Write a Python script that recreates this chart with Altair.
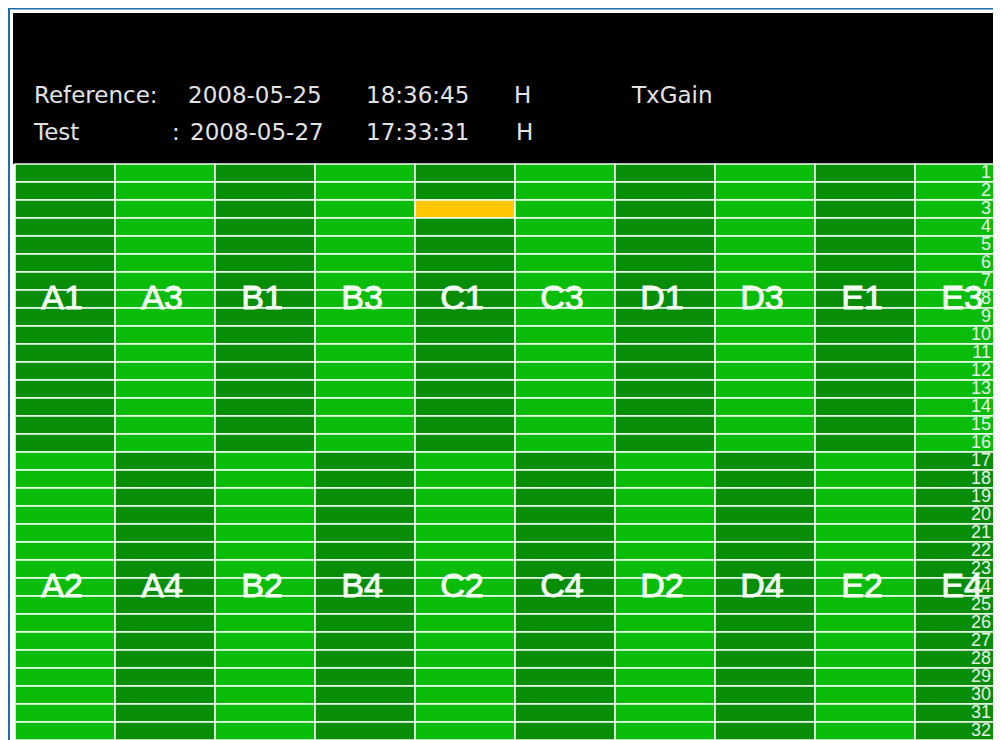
import altair as alt
import pandas as pd

# ---- data ----
top_modules = ["A1", "A3", "B1", "B3", "C1", "C3", "D1", "D3", "E1", "E3"]
bottom_modules = ["A2", "A4", "B2", "B4", "C2", "C4", "D2", "D4", "E2", "E4"]
top_states = ["dark", "bright", "dark", "bright", "dark", "bright", "dark", "bright", "dark", "bright"]
bottom_states = ["bright", "dark", "bright", "dark", "bright", "dark", "bright", "dark", "bright", "dark"]
row_labels = [str(i) for i in range(1, 33)]
flag_modules = ["C1"]
flag_rows = [3]
flag_states = ["warn"]
state_names = ["dark", "bright", "warn"]
state_colors = ["#078D07", "#0BBD0B", "#FFC800"]

line1_tokens = ["Reference:", "2008-05-25", "18:36:45", "H", "TxGain"]
line2_tokens = ["Test", ":", "2008-05-27", "17:33:31", "H"]

ROWS_PER_MODULE = 16
N_ROWS = len(row_labels)

# ---- tables ----
cells = []
for c in range(len(top_modules)):
    for r in range(1, N_ROWS + 1):
        top = r <= ROWS_PER_MODULE
        module = top_modules[c] if top else bottom_modules[c]
        state = top_states[c] if top else bottom_states[c]
        for m, fr, st in zip(flag_modules, flag_rows, flag_states):
            if m == module and fr == r:
                state = st
        cells.append(dict(col=c, col_end=c + 1, row=r - 1, row_end=r,
                          module=module, state=state))
cells_df = pd.DataFrame(cells)

labels = []
for c in range(len(top_modules)):
    labels.append(dict(xc=c + 0.5, yc=7.5, module=top_modules[c]))
    labels.append(dict(xc=c + 0.5, yc=ROWS_PER_MODULE + 7.5, module=bottom_modules[c]))
labels_df = pd.DataFrame(labels)

rows_df = pd.DataFrame({"label": row_labels,
                        "yb": [i + 1 - 0.22 for i in range(N_ROWS)]})

one = pd.DataFrame({"k": [0]})

W, H = 985, 732
xs = alt.Scale(domain=[0, 10], range=[7, 1007])
ys = alt.Scale(domain=[0, 32], range=[156, 732])

# ---- layers ----
frame_v = alt.Chart(one).mark_rect(color="#1F6EAD").encode(
    x=alt.value(0), x2=alt.value(2), y=alt.value(0), y2=alt.value(H))
frame_h = alt.Chart(one).mark_rect(color="#1F6EAD").encode(
    x=alt.value(0), x2=alt.value(W), y=alt.value(0), y2=alt.value(1.5))
header = alt.Chart(one).mark_rect(color="black").encode(
    x=alt.value(5), x2=alt.value(W), y=alt.value(5), y2=alt.value(156))


def htext(s, x, y):
    return alt.Chart(one).mark_text(
        text=s, align="left", baseline="alphabetic", font="DejaVu Sans",
        fontSize=23, color="#E2E2E2").encode(x=alt.value(x), y=alt.value(y))


line1_x = [26, 180, 358, 506, 624]
line2_x = [26, 164, 182, 358, 508]
texts = [htext(t, x, 95) for t, x in zip(line1_tokens, line1_x)]
texts += [htext(t, x, 132) for t, x in zip(line2_tokens, line2_x)]

grid = alt.Chart(cells_df).mark_rect(stroke="#F4FFF4", strokeWidth=1.6, clip=True).encode(
    x=alt.X("col:Q", scale=xs, axis=None),
    x2="col_end:Q",
    y=alt.Y("row:Q", scale=ys, axis=None),
    y2="row_end:Q",
    color=alt.Color("state:N", scale=alt.Scale(domain=state_names, range=state_colors),
                    legend=None),
)

mod_text = alt.Chart(labels_df).mark_text(
    font="Liberation Sans", fontSize=34, color="#F4FFF4", stroke="#F4FFF4",
    strokeWidth=0.9, dx=-3, baseline="middle", align="center").encode(
    x=alt.X("xc:Q", scale=xs, axis=None),
    y=alt.Y("yc:Q", scale=ys, axis=None),
    text="module:N",
)

row_text = alt.Chart(rows_df).mark_text(
    font="Liberation Sans", fontSize=18, color="#E6F2E6",
    align="right", baseline="alphabetic").encode(
    x=alt.value(983),
    y=alt.Y("yb:Q", scale=ys, axis=None),
    text="label:N",
)

chart = alt.layer(frame_v, frame_h, header, *texts, grid, mod_text, row_text).properties(
    width=W, height=H, padding=0, autosize="none", background="white"
).configure_view(strokeWidth=0)

chart.save("out.html", embed_options={"renderer": "svg", "actions": False})
